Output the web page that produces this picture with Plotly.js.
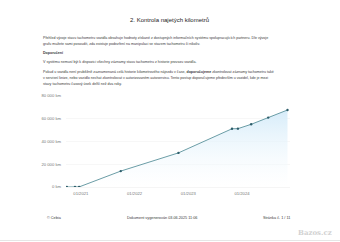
<!DOCTYPE html>
<html><head><meta charset="utf-8">
<script src="https://cdn.plot.ly/plotly-3.0.1.min.js"></script>
<style>html,body{margin:0;padding:0;background:#fff;}#c{width:340px;height:242px;}</style>
</head><body><div id="c"></div>
<script>
const dates = ['2020-09-28','2020-11-22','2020-12-20','2021-09-29','2022-10-26','2023-10-25','2023-12-04','2024-03-03','2024-06-27','2024-11-05'];
const km = [0, 20, 60, 14000, 30000, 51200, 51300, 55100, 61000, 67700];
const yTickVals = [0, 20000, 40000, 60000, 80000];
const yTickText = ['0 km', '20 000 km', '40 000 km', '60 000 km', '80 000 km'];
const xTickVals = ['2021-01-01', '2022-01-01', '2023-01-01', '2024-01-01'];
const xTickText = ['01/2021', '01/2022', '01/2023', '01/2024'];

const L = 66, R = 290, T = 96, B = 187, W = 340, H = 242;
function px(X){ return (X - L) / (R - L); }
function py(Y){ return (B - Y) / (B - T); }
const txt = '#3a3a3a';
const FF = 'Liberation Sans, Arial, sans-serif';
function note(text, X, Y, size, opts){
  return Object.assign({xref:'paper', yref:'paper', x:px(X), y:py(Y), text:text, showarrow:false,
    xanchor:'left', yanchor:'middle', font:{family:FF, size:size, color:txt}}, opts||{});
}
const anns = [
  note('2. Kontrola najetých kilometrů', 169, 20, 6.0, {xanchor:'center', font:{family:FF,size:6.0,color:'#222'}}),
  note('Přehled vývoje stavu tachometru vozidla obsahuje hodnoty získané z dostupných informačních systémů spolupracujících partnerů. Dle vývoje', 41, 38, 3.6),
  note('grafu můžete sami posoudit, zda existuje podezření na manipulaci se stavem tachometru či nikoliv.', 41, 44, 3.6),
  note('<b>Doporučení</b>', 41, 53, 3.6),
  note('V systému nemusí být k dispozici všechny záznamy stavů tachometru z historie provozu vozidla.', 41, 62, 3.6),
  note('Pokud u vozidla není průběžně zaznamenaná celá historie kilometrového nájezdu v čase, <b>doporučujeme</b> zkontrolovat záznamy tachometru také', 41, 72, 3.6),
  note('v servisní knize, nebo vozidlo nechat zkontrolovat v autorizovaném autoservisu. Tento postup doporučujeme především u vozidel, kde je mezi', 41, 78, 3.6),
  note('stavy tachometru časový úsek delší než dva roky.', 41, 84, 3.6),
  note('© Cebia', 45, 218, 3.8),
  note('Dokument vygenerován 03.06.2025 11:06', 162, 218, 3.8, {xanchor:'center'}),
  note('Stránka č. 1 / 11', 276, 218, 3.8, {xanchor:'center'}),
  note('<b>Bazos.cz</b>', 334, 232, 7, {xanchor:'right', font:{family:'DejaVu Serif, serif', size:7, color:'#d2d2d2'}})
];

Plotly.newPlot('c', [{
  x: dates, y: km, type:'scatter', mode:'lines+markers',
  line:{color:'#5a929c', width:0.9},
  marker:{color:'#2d5d6a', size:2.4},
  fill:'tozeroy',
  fillgradient:{type:'vertical', colorscale:[[0,'rgba(255,255,255,0.3)'],[1,'rgba(212,235,249,0.95)']]},
  hoverinfo:'skip'
}], {
  width:W, height:H,
  margin:{l:L, r:W-R, t:T, b:H-B, pad:0},
  paper_bgcolor:'#fff', plot_bgcolor:'#fff',
  showlegend:false,
  xaxis:{type:'date', range:['2020-09-22','2024-11-22'], tickvals:xTickVals, ticktext:xTickText,
    showgrid:false, zeroline:false, showline:true, linecolor:'#eeeeee', linewidth:0.6,
    ticks:'', tickfont:{family:FF, size:4.2, color:'#777'}, ticklabelstandoff:2},
  yaxis:{range:[0,80000], tickvals:yTickVals, ticktext:yTickText, showgrid:true, gridcolor:'#f1f1f1', gridwidth:0.6,
    zeroline:false, showline:false, ticks:'', tickfont:{family:FF, size:4.2, color:'#777'}, ticklabelstandoff:4},
  annotations: anns,
  shapes:[{type:'line', xref:'paper', yref:'paper', x0:px(0), x1:px(340), y0:py(240.5), y1:py(240.5), line:{color:'#e6e6e6', width:1}}]
}, {staticPlot:true, displayModeBar:false});
</script></body></html>
